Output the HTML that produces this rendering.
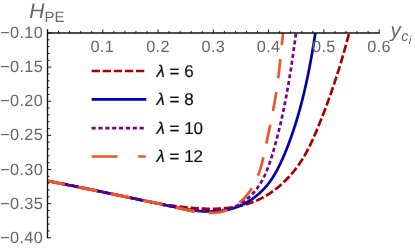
<!DOCTYPE html><html><head><meta charset="utf-8"><style>html,body{margin:0;padding:0;background:#fff;}body{width:415px;height:249px;position:relative;overflow:hidden;font-family:"Liberation Sans",sans-serif;}</style></head><body><svg width="415" height="249" viewBox="0 0 415 249" style="position:absolute;left:0;top:0;will-change:transform">
<defs><clipPath id="cp"><rect x="47" y="33.0" width="340" height="210"/></clipPath><clipPath id="cl"><rect x="47" y="150" width="153" height="90"/></clipPath></defs>
<g clip-path="url(#cp)" fill="none" stroke-width="2.7">
<path d="M47.33,181.01 L48.40,181.18 L49.47,181.36 L50.54,181.53 L51.61,181.71 L52.67,181.88 L53.73,182.06 L54.80,182.25 L55.86,182.43 L56.92,182.62 L57.97,182.80 L59.03,182.99 L60.09,183.18 L61.14,183.37 L62.19,183.57 L63.25,183.76 L64.30,183.96 L65.35,184.16 L66.40,184.36 L67.45,184.56 L68.49,184.76 L69.54,184.96 L70.58,185.17 L71.63,185.37 L72.67,185.58 L73.71,185.79 L74.75,186.00 L75.79,186.21 L76.83,186.42 L77.87,186.63 L78.91,186.85 L79.95,187.06 L80.98,187.28 L82.02,187.50 L83.05,187.71 L84.09,187.93 L85.12,188.15 L86.15,188.37 L87.18,188.59 L88.22,188.81 L89.25,189.03 L90.28,189.25 L91.31,189.48 L92.34,189.70 L93.36,189.92 L94.39,190.15 L95.42,190.37 L96.45,190.60 L97.47,190.82 L98.50,191.05 L99.53,191.28 L100.55,191.50 L101.58,191.73 L102.60,191.95 L103.63,192.18 L104.65,192.41 L105.67,192.63 L106.70,192.86 L107.72,193.09 L108.75,193.31 L109.77,193.54 L110.79,193.77 L111.82,193.99 L112.84,194.22 L113.86,194.44 L114.88,194.67 L115.91,194.89 L116.93,195.12 L117.95,195.34 L118.98,195.57 L120.00,195.79 L121.02,196.01 L122.04,196.23 L123.07,196.46 L124.09,196.68 L125.11,196.90 L126.14,197.12 L127.16,197.34 L128.19,197.55 L129.21,197.77 L130.23,197.99 L131.26,198.20 L132.29,198.42 L133.31,198.63 L134.34,198.84 L135.36,199.06 L136.39,199.27 L137.42,199.48 L138.44,199.68 L139.47,199.89 L140.50,200.10 L141.53,200.30 L142.56,200.51 L143.59,200.71 L144.62,200.91 L145.65,201.11 L146.68,201.31 L147.72,201.50 L148.75,201.70 L149.78,201.89 L150.82,202.08 L151.85,202.27 L152.89,202.46 L153.93,202.65 L154.96,202.83 L156.00,203.02 L157.04,203.20 L158.08,203.38 L159.12,203.56 L160.16,203.73 L161.21,203.91 L162.25,204.08 L163.30,204.25 L164.34,204.42 L165.39,204.58 L166.44,204.75 L167.48,204.91 L168.53,205.07 L169.58,205.23 L170.64,205.38 L171.69,205.54 L172.74,205.69 L173.80,205.83 L174.86,205.98 L175.92,206.12 L176.97,206.26 L178.03,206.40 L179.10,206.54 L180.16,206.67 L181.22,206.80 L182.29,206.93 L183.36,207.05 L184.42,207.17 L185.49,207.29 L186.56,207.40 L187.63,207.52 L188.70,207.62 L189.77,207.73 L190.84,207.83 L191.92,207.92 L192.99,208.01 L194.06,208.10 L195.14,208.18 L196.21,208.26 L197.28,208.34 L198.36,208.41 L199.43,208.47 L200.50,208.53 L201.57,208.58 L202.65,208.63 L203.72,208.67 L204.79,208.71 L205.86,208.74 L206.93,208.77 L208.00,208.79 L209.07,208.81 L210.14,208.81 L211.21,208.82 L212.27,208.81 L213.34,208.80 L214.40,208.78 L215.47,208.76 L216.53,208.73 L217.59,208.69 L218.65,208.64 L219.70,208.59 L220.76,208.53 L221.81,208.46 L222.87,208.39 L223.92,208.30 L224.96,208.21 L226.01,208.11 L227.06,208.01 L228.10,207.89 L229.14,207.77 L230.18,207.64 L231.21,207.49 L232.24,207.34 L233.27,207.19 L234.30,207.02 L235.33,206.84 L236.35,206.65 L237.37,206.46 L238.39,206.25 L239.40,206.04 L240.41,205.81 L241.42,205.58 L242.43,205.33 L243.43,205.08 L244.43,204.81 L245.42,204.54 L246.41,204.25 L247.40,203.95 L248.38,203.65 L249.36,203.33 L250.34,203.00 L251.31,202.66 L252.28,202.31 L253.25,201.94 L254.21,201.57 L255.16,201.18 L256.11,200.78 L257.06,200.37 L258.01,199.95 L258.94,199.51 L259.88,199.07 L260.81,198.61 L261.73,198.14 L262.65,197.65 L263.57,197.16 L264.48,196.65 L265.39,196.13 L266.29,195.60 L267.18,195.05 L268.07,194.50 L268.96,193.94 L269.84,193.36 L270.71,192.77 L271.58,192.18 L272.44,191.57 L273.30,190.95 L274.15,190.33 L275.00,189.69 L275.84,189.04 L276.67,188.38 L277.50,187.72 L278.32,187.04 L279.13,186.36 L279.94,185.66 L280.75,184.96 L281.54,184.25 L282.33,183.53 L283.12,182.80 L283.89,182.07 L284.66,181.32 L285.43,180.57 L286.18,179.81 L286.93,179.04 L287.67,178.27 L288.41,177.49 L289.14,176.70 L289.86,175.90 L290.57,175.10 L291.28,174.29 L291.98,173.47 L292.67,172.65 L293.35,171.82 L294.03,170.99 L294.70,170.15 L295.36,169.31 L296.01,168.45 L296.66,167.60 L297.29,166.74 L297.92,165.87 L298.54,165.00 L299.15,164.12 L299.76,163.24 L300.35,162.36 L300.94,161.47 L301.52,160.57 L302.09,159.68 L302.65,158.78 L303.20,157.87 L303.75,156.96 L304.29,156.05 L304.82,155.14 L305.34,154.22 L305.86,153.29 L306.37,152.37 L306.87,151.44 L307.37,150.51 L307.86,149.57 L308.35,148.63 L308.83,147.69 L309.30,146.75 L309.77,145.81 L310.24,144.86 L310.70,143.91 L311.15,142.95 L311.60,142.00 L312.04,141.04 L312.48,140.08 L312.92,139.12 L313.35,138.16 L313.78,137.20 L314.21,136.23 L314.63,135.26 L315.05,134.29 L315.47,133.32 L315.88,132.35 L316.29,131.38 L316.70,130.41 L317.11,129.43 L317.51,128.46 L317.91,127.48 L318.31,126.50 L318.71,125.53 L319.11,124.55 L319.51,123.57 L319.90,122.59 L320.30,121.61 L320.69,120.63 L321.08,119.65 L321.47,118.67 L321.86,117.69 L322.24,116.70 L322.63,115.72 L323.01,114.74 L323.39,113.75 L323.77,112.77 L324.15,111.78 L324.52,110.79 L324.90,109.81 L325.27,108.82 L325.64,107.83 L326.01,106.84 L326.38,105.85 L326.75,104.86 L327.12,103.87 L327.48,102.88 L327.84,101.89 L328.20,100.89 L328.56,99.90 L328.92,98.91 L329.28,97.91 L329.63,96.92 L329.99,95.92 L330.34,94.93 L330.69,93.93 L331.04,92.93 L331.39,91.94 L331.73,90.94 L332.08,89.94 L332.42,88.94 L332.76,87.94 L333.10,86.94 L333.44,85.94 L333.78,84.94 L334.12,83.94 L334.45,82.94 L334.78,81.93 L335.11,80.93 L335.44,79.93 L335.77,78.92 L336.10,77.92 L336.43,76.91 L336.75,75.91 L337.07,74.90 L337.39,73.89 L337.71,72.89 L338.03,71.88 L338.35,70.87 L338.66,69.86 L338.98,68.85 L339.29,67.84 L339.60,66.83 L339.91,65.82 L340.22,64.81 L340.53,63.80 L340.83,62.79 L341.13,61.77 L341.44,60.76 L341.74,59.75 L342.04,58.73 L342.34,57.72 L342.63,56.71 L342.93,55.69 L343.22,54.68 L343.51,53.66 L343.81,52.64 L344.10,51.63 L344.38,50.61 L344.67,49.59 L344.96,48.57 L345.24,47.56 L345.52,46.54 L345.81,45.52 L346.09,44.50 L346.36,43.48 L346.64,42.46 L346.92,41.44 L347.19,40.41 L347.46,39.39 L347.74,38.37 L348.01,37.35 L348.28,36.33 L348.54,35.30 L348.81,34.28 L349.07,33.26 L349.34,32.23 L349.60,31.21 L349.86,30.18 L350.12,29.16 L350.38,28.13 L350.63,27.11 L350.89,26.08 L351.14,25.05 L351.40,24.03 L351.65,23.00 L351.90,21.97" stroke="#a80000" stroke-dasharray="8.3 2.8" stroke-dashoffset="-1.5"/>
<path d="M47.34,180.84 L48.36,181.04 L49.39,181.25 L50.41,181.45 L51.43,181.65 L52.45,181.86 L53.47,182.06 L54.48,182.26 L55.50,182.46 L56.51,182.67 L57.52,182.87 L58.53,183.07 L59.54,183.27 L60.55,183.47 L61.56,183.68 L62.56,183.88 L63.57,184.08 L64.57,184.28 L65.57,184.48 L66.57,184.68 L67.57,184.88 L68.57,185.08 L69.57,185.28 L70.57,185.48 L71.56,185.68 L72.56,185.88 L73.55,186.08 L74.54,186.28 L75.53,186.48 L76.53,186.68 L77.52,186.88 L78.50,187.08 L79.49,187.28 L80.48,187.48 L81.47,187.68 L82.45,187.87 L83.44,188.07 L84.42,188.27 L85.41,188.47 L86.39,188.67 L87.37,188.87 L88.35,189.07 L89.33,189.27 L90.32,189.47 L91.30,189.67 L92.28,189.87 L93.25,190.06 L94.23,190.26 L95.21,190.46 L96.19,190.66 L97.17,190.86 L98.14,191.06 L99.12,191.26 L100.10,191.46 L101.07,191.66 L102.05,191.86 L103.02,192.06 L104.00,192.26 L104.97,192.46 L105.95,192.66 L106.92,192.86 L107.90,193.06 L108.87,193.26 L109.85,193.46 L110.82,193.66 L111.80,193.86 L112.77,194.06 L113.74,194.26 L114.72,194.46 L115.69,194.66 L116.67,194.86 L117.64,195.07 L118.62,195.27 L119.59,195.47 L120.57,195.67 L121.54,195.88 L122.52,196.08 L123.49,196.28 L124.47,196.48 L125.45,196.69 L126.42,196.89 L127.40,197.09 L128.38,197.30 L129.35,197.50 L130.33,197.71 L131.31,197.91 L132.29,198.12 L133.27,198.32 L134.25,198.53 L135.23,198.73 L136.21,198.94 L137.19,199.15 L138.17,199.35 L139.16,199.56 L140.14,199.77 L141.12,199.98 L142.11,200.18 L143.10,200.39 L144.08,200.60 L145.07,200.81 L146.06,201.02 L147.05,201.23 L148.04,201.44 L149.03,201.65 L150.02,201.86 L151.01,202.07 L152.00,202.28 L153.00,202.50 L153.99,202.71 L154.99,202.92 L155.99,203.13 L156.98,203.35 L157.98,203.56 L158.98,203.78 L159.99,203.99 L160.99,204.21 L161.99,204.42 L163.00,204.64 L164.00,204.86 L165.01,205.07 L166.02,205.29 L167.03,205.51 L168.04,205.72 L169.05,205.94 L170.06,206.15 L171.08,206.36 L172.09,206.57 L173.10,206.78 L174.12,206.99 L175.13,207.20 L176.15,207.40 L177.17,207.60 L178.18,207.80 L179.20,208.00 L180.22,208.19 L181.23,208.38 L182.25,208.56 L183.27,208.74 L184.28,208.92 L185.30,209.10 L186.32,209.27 L187.33,209.43 L188.35,209.59 L189.37,209.74 L190.38,209.89 L191.40,210.04 L192.41,210.18 L193.43,210.31 L194.44,210.44 L195.45,210.56 L196.47,210.67 L197.48,210.78 L198.49,210.88 L199.50,210.97 L200.51,211.06 L201.52,211.13 L202.52,211.20 L203.53,211.27 L204.53,211.32 L205.53,211.37 L206.54,211.40 L207.54,211.43 L208.54,211.45 L209.53,211.46 L210.53,211.46 L211.52,211.45 L212.52,211.43 L213.51,211.41 L214.50,211.37 L215.48,211.32 L216.47,211.26 L217.45,211.18 L218.43,211.10 L219.41,211.01 L220.39,210.90 L221.37,210.78 L222.34,210.66 L223.31,210.51 L224.28,210.36 L225.24,210.19 L226.21,210.01 L227.17,209.82 L228.13,209.62 L229.08,209.40 L230.03,209.16 L230.98,208.92 L231.93,208.66 L232.87,208.38 L233.82,208.09 L234.75,207.79 L235.69,207.47 L236.62,207.13 L237.55,206.78 L238.47,206.42 L239.40,206.04 L240.31,205.65 L241.23,205.24 L242.13,204.82 L243.04,204.38 L243.94,203.93 L244.83,203.47 L245.72,202.99 L246.60,202.50 L247.48,201.99 L248.35,201.48 L249.21,200.95 L250.07,200.41 L250.92,199.85 L251.76,199.29 L252.60,198.71 L253.43,198.12 L254.25,197.51 L255.06,196.90 L255.87,196.27 L256.66,195.64 L257.45,194.99 L258.23,194.33 L259.00,193.66 L259.76,192.98 L260.51,192.29 L261.26,191.59 L261.99,190.88 L262.71,190.16 L263.42,189.42 L264.12,188.68 L264.81,187.93 L265.49,187.17 L266.16,186.41 L266.81,185.63 L267.46,184.84 L268.09,184.05 L268.71,183.25 L269.32,182.44 L269.92,181.62 L270.51,180.79 L271.09,179.96 L271.66,179.12 L272.22,178.28 L272.77,177.42 L273.31,176.57 L273.85,175.70 L274.37,174.83 L274.89,173.96 L275.40,173.08 L275.90,172.20 L276.39,171.31 L276.88,170.42 L277.36,169.53 L277.83,168.63 L278.29,167.73 L278.75,166.82 L279.21,165.92 L279.66,165.01 L280.10,164.10 L280.53,163.18 L280.97,162.27 L281.39,161.35 L281.81,160.43 L282.23,159.50 L282.64,158.58 L283.05,157.65 L283.45,156.72 L283.85,155.79 L284.25,154.86 L284.64,153.93 L285.02,153.00 L285.41,152.06 L285.79,151.12 L286.17,150.19 L286.54,149.25 L286.91,148.31 L287.28,147.37 L287.65,146.43 L288.01,145.48 L288.37,144.54 L288.73,143.60 L289.08,142.65 L289.43,141.70 L289.78,140.76 L290.13,139.81 L290.47,138.86 L290.81,137.91 L291.15,136.96 L291.49,136.01 L291.82,135.06 L292.15,134.11 L292.48,133.15 L292.80,132.20 L293.13,131.25 L293.45,130.29 L293.76,129.33 L294.08,128.38 L294.39,127.42 L294.70,126.46 L295.01,125.50 L295.31,124.54 L295.61,123.58 L295.91,122.62 L296.21,121.66 L296.51,120.69 L296.80,119.73 L297.09,118.76 L297.38,117.80 L297.66,116.83 L297.95,115.87 L298.23,114.90 L298.51,113.93 L298.79,112.96 L299.06,111.99 L299.33,111.02 L299.60,110.05 L299.87,109.08 L300.14,108.11 L300.40,107.14 L300.66,106.16 L300.92,105.19 L301.18,104.22 L301.43,103.24 L301.69,102.27 L301.94,101.29 L302.19,100.32 L302.43,99.34 L302.68,98.36 L302.92,97.38 L303.16,96.40 L303.40,95.42 L303.64,94.45 L303.87,93.47 L304.11,92.48 L304.34,91.50 L304.57,90.52 L304.80,89.54 L305.02,88.56 L305.25,87.57 L305.47,86.59 L305.69,85.61 L305.91,84.62 L306.13,83.64 L306.34,82.65 L306.56,81.67 L306.77,80.68 L306.98,79.69 L307.19,78.71 L307.40,77.72 L307.60,76.73 L307.81,75.74 L308.01,74.75 L308.21,73.76 L308.41,72.77 L308.61,71.79 L308.81,70.80 L309.00,69.80 L309.20,68.81 L309.39,67.82 L309.58,66.83 L309.77,65.84 L309.96,64.85 L310.14,63.86 L310.33,62.86 L310.51,61.87 L310.70,60.88 L310.88,59.88 L311.06,58.89 L311.24,57.89 L311.41,56.90 L311.59,55.91 L311.76,54.91 L311.94,53.92 L312.11,52.92 L312.28,51.93 L312.45,50.93 L312.62,49.93 L312.79,48.94 L312.96,47.94 L313.12,46.95 L313.29,45.95 L313.45,44.95 L313.62,43.95 L313.78,42.96 L313.94,41.96 L314.10,40.96 L314.26,39.97 L314.42,38.97 L314.57,37.97 L314.73,36.97 L314.89,35.97 L315.04,34.98 L315.19,33.98 L315.35,32.98 L315.50,31.98 L315.65,30.98 L315.80,29.98 L315.95,28.98 L316.10,27.99 L316.25,26.99 L316.39,25.99 L316.54,24.99 L316.69,23.99 L316.83,22.99 L316.98,21.99" stroke="#0000aa"/>
<path d="M47.46,180.84 L48.43,181.04 L49.40,181.24 L50.38,181.44 L51.35,181.64 L52.32,181.84 L53.30,182.03 L54.27,182.23 L55.24,182.43 L56.21,182.63 L57.18,182.83 L58.15,183.02 L59.12,183.22 L60.09,183.42 L61.06,183.61 L62.03,183.81 L63.00,184.01 L63.97,184.20 L64.93,184.40 L65.90,184.59 L66.87,184.79 L67.84,184.98 L68.80,185.18 L69.77,185.37 L70.74,185.57 L71.70,185.76 L72.67,185.96 L73.63,186.15 L74.60,186.35 L75.56,186.54 L76.53,186.73 L77.49,186.93 L78.46,187.12 L79.42,187.31 L80.39,187.51 L81.35,187.70 L82.31,187.89 L83.28,188.09 L84.24,188.28 L85.20,188.47 L86.16,188.67 L87.13,188.86 L88.09,189.05 L89.05,189.25 L90.01,189.44 L90.98,189.63 L91.94,189.82 L92.90,190.02 L93.86,190.21 L94.82,190.40 L95.78,190.60 L96.74,190.79 L97.70,190.98 L98.66,191.18 L99.62,191.37 L100.59,191.56 L101.55,191.76 L102.51,191.95 L103.47,192.14 L104.43,192.34 L105.39,192.53 L106.35,192.72 L107.31,192.92 L108.27,193.11 L109.23,193.31 L110.18,193.50 L111.14,193.70 L112.10,193.89 L113.06,194.09 L114.02,194.28 L114.98,194.48 L115.94,194.67 L116.90,194.87 L117.86,195.06 L118.82,195.26 L119.78,195.46 L120.74,195.65 L121.70,195.85 L122.66,196.05 L123.62,196.24 L124.58,196.44 L125.53,196.64 L126.49,196.84 L127.45,197.04 L128.41,197.23 L129.37,197.43 L130.33,197.63 L131.29,197.83 L132.25,198.03 L133.21,198.23 L134.17,198.43 L135.13,198.63 L136.09,198.84 L137.05,199.04 L138.01,199.24 L138.97,199.44 L139.93,199.65 L140.89,199.85 L141.85,200.05 L142.81,200.26 L143.77,200.46 L144.74,200.67 L145.70,200.87 L146.66,201.08 L147.62,201.28 L148.58,201.49 L149.54,201.70 L150.50,201.91 L151.47,202.11 L152.43,202.32 L153.39,202.53 L154.35,202.74 L155.32,202.95 L156.28,203.16 L157.24,203.37 L158.21,203.58 L159.17,203.80 L160.13,204.01 L161.10,204.22 L162.06,204.44 L163.03,204.65 L163.99,204.87 L164.96,205.08 L165.92,205.30 L166.89,205.51 L167.85,205.73 L168.82,205.94 L169.78,206.15 L170.75,206.36 L171.72,206.57 L172.69,206.78 L173.66,206.99 L174.62,207.19 L175.59,207.40 L176.56,207.60 L177.53,207.80 L178.51,207.99 L179.48,208.18 L180.45,208.37 L181.42,208.55 L182.40,208.74 L183.37,208.91 L184.34,209.09 L185.32,209.25 L186.30,209.42 L187.27,209.58 L188.25,209.73 L189.23,209.88 L190.21,210.02 L191.19,210.16 L192.17,210.29 L193.16,210.42 L194.14,210.54 L195.12,210.65 L196.11,210.76 L197.09,210.86 L198.08,210.95 L199.07,211.03 L200.06,211.11 L201.05,211.18 L202.04,211.24 L203.03,211.29 L204.03,211.34 L205.02,211.37 L206.02,211.40 L207.02,211.42 L208.01,211.42 L209.01,211.42 L210.01,211.41 L211.00,211.39 L212.00,211.35 L212.99,211.31 L213.99,211.25 L214.98,211.19 L215.97,211.11 L216.95,211.01 L217.94,210.91 L218.92,210.79 L219.89,210.66 L220.87,210.52 L221.84,210.36 L222.80,210.19 L223.77,210.01 L224.72,209.81 L225.67,209.59 L226.62,209.36 L227.56,209.12 L228.49,208.86 L229.42,208.58 L230.34,208.29 L231.25,207.98 L232.16,207.65 L233.06,207.31 L233.95,206.95 L234.83,206.57 L235.71,206.18 L236.57,205.77 L237.43,205.34 L238.28,204.89 L239.12,204.43 L239.95,203.96 L240.77,203.46 L241.58,202.96 L242.39,202.44 L243.18,201.90 L243.97,201.35 L244.75,200.78 L245.51,200.20 L246.27,199.61 L247.02,199.00 L247.75,198.38 L248.48,197.75 L249.20,197.11 L249.91,196.45 L250.60,195.78 L251.29,195.10 L251.97,194.41 L252.63,193.70 L253.29,192.99 L253.93,192.26 L254.56,191.52 L255.18,190.78 L255.79,190.02 L256.39,189.25 L256.98,188.48 L257.56,187.69 L258.12,186.90 L258.67,186.09 L259.22,185.28 L259.75,184.46 L260.26,183.63 L260.77,182.80 L261.27,181.95 L261.76,181.10 L262.24,180.25 L262.70,179.38 L263.16,178.51 L263.61,177.63 L264.05,176.75 L264.48,175.86 L264.90,174.96 L265.31,174.06 L265.72,173.15 L266.12,172.24 L266.50,171.32 L266.89,170.40 L267.26,169.48 L267.63,168.55 L267.99,167.61 L268.34,166.67 L268.69,165.73 L269.03,164.79 L269.37,163.84 L269.70,162.89 L270.02,161.94 L270.34,160.98 L270.66,160.02 L270.97,159.07 L271.27,158.10 L271.58,157.14 L271.87,156.18 L272.17,155.21 L272.46,154.25 L272.74,153.28 L273.03,152.32 L273.31,151.35 L273.59,150.38 L273.86,149.42 L274.14,148.45 L274.41,147.49 L274.68,146.52 L274.95,145.56 L275.21,144.60 L275.48,143.63 L275.74,142.67 L276.00,141.71 L276.25,140.75 L276.51,139.79 L276.76,138.82 L277.01,137.86 L277.26,136.90 L277.51,135.94 L277.75,134.98 L278.00,134.03 L278.24,133.07 L278.48,132.11 L278.72,131.15 L278.95,130.19 L279.19,129.23 L279.42,128.28 L279.65,127.32 L279.88,126.36 L280.10,125.41 L280.33,124.45 L280.55,123.49 L280.77,122.54 L280.99,121.58 L281.21,120.63 L281.43,119.67 L281.64,118.72 L281.85,117.76 L282.06,116.80 L282.27,115.85 L282.48,114.89 L282.69,113.94 L282.89,112.98 L283.10,112.03 L283.30,111.08 L283.50,110.12 L283.70,109.17 L283.89,108.21 L284.09,107.26 L284.28,106.30 L284.48,105.35 L284.67,104.39 L284.86,103.44 L285.05,102.48 L285.23,101.53 L285.42,100.57 L285.60,99.62 L285.79,98.66 L285.97,97.71 L286.15,96.75 L286.33,95.80 L286.51,94.84 L286.69,93.89 L286.86,92.93 L287.04,91.97 L287.21,91.02 L287.38,90.06 L287.55,89.10 L287.72,88.15 L287.89,87.19 L288.06,86.23 L288.22,85.27 L288.39,84.32 L288.55,83.36 L288.72,82.40 L288.88,81.44 L289.04,80.48 L289.20,79.52 L289.36,78.56 L289.52,77.60 L289.68,76.64 L289.83,75.68 L289.99,74.72 L290.14,73.76 L290.30,72.79 L290.45,71.83 L290.60,70.87 L290.75,69.90 L290.90,68.94 L291.05,67.98 L291.20,67.01 L291.35,66.05 L291.50,65.08 L291.64,64.11 L291.79,63.15 L291.94,62.18 L292.08,61.21 L292.22,60.24 L292.37,59.27 L292.51,58.30 L292.65,57.33 L292.79,56.36 L292.93,55.39 L293.08,54.42 L293.21,53.44 L293.35,52.47 L293.49,51.50 L293.63,50.52 L293.77,49.55 L293.91,48.57 L294.04,47.59 L294.18,46.61 L294.32,45.64 L294.45,44.66 L294.59,43.68 L294.72,42.69 L294.86,41.71 L294.99,40.73 L295.12,39.75 L295.26,38.76 L295.39,37.78 L295.52,36.79 L295.66,35.81 L295.79,34.82 L295.92,33.83 L296.05,32.84 L296.19,31.85 L296.32,30.86 L296.45,29.87 L296.58,28.87 L296.71,27.88 L296.84,26.89 L296.98,25.89 L297.11,24.89 L297.24,23.90 L297.37,22.90 L297.50,21.90" stroke="#7a0085" stroke-dasharray="4.1 2.75" stroke-dashoffset="0"/>
<path d="M47.44,180.80 L48.41,181.00 L49.37,181.20 L50.33,181.40 L51.29,181.61 L52.25,181.81 L53.21,182.01 L54.17,182.21 L55.13,182.41 L56.09,182.61 L57.05,182.80 L58.01,183.00 L58.97,183.20 L59.92,183.40 L60.88,183.60 L61.84,183.79 L62.79,183.99 L63.75,184.18 L64.71,184.38 L65.66,184.58 L66.62,184.77 L67.57,184.97 L68.52,185.16 L69.48,185.36 L70.43,185.55 L71.38,185.74 L72.34,185.94 L73.29,186.13 L74.24,186.32 L75.19,186.52 L76.14,186.71 L77.09,186.90 L78.05,187.09 L79.00,187.29 L79.95,187.48 L80.90,187.67 L81.85,187.86 L82.80,188.05 L83.75,188.24 L84.69,188.43 L85.64,188.62 L86.59,188.82 L87.54,189.01 L88.49,189.20 L89.44,189.39 L90.38,189.58 L91.33,189.77 L92.28,189.96 L93.23,190.15 L94.17,190.34 L95.12,190.53 L96.07,190.72 L97.01,190.91 L97.96,191.10 L98.91,191.29 L99.85,191.48 L100.80,191.67 L101.74,191.86 L102.69,192.05 L103.64,192.24 L104.58,192.43 L105.53,192.62 L106.47,192.81 L107.42,193.00 L108.36,193.19 L109.31,193.38 L110.25,193.57 L111.20,193.76 L112.14,193.95 L113.09,194.14 L114.03,194.33 L114.98,194.52 L115.92,194.71 L116.87,194.90 L117.81,195.10 L118.76,195.29 L119.70,195.48 L120.65,195.67 L121.59,195.86 L122.54,196.05 L123.48,196.25 L124.43,196.44 L125.37,196.63 L126.32,196.83 L127.26,197.02 L128.21,197.21 L129.16,197.41 L130.10,197.60 L131.05,197.80 L131.99,197.99 L132.94,198.19 L133.88,198.38 L134.83,198.58 L135.78,198.77 L136.72,198.97 L137.67,199.17 L138.62,199.36 L139.56,199.56 L140.51,199.76 L141.46,199.96 L142.41,200.16 L143.35,200.35 L144.30,200.55 L145.25,200.75 L146.20,200.95 L147.14,201.15 L148.09,201.35 L149.04,201.56 L149.99,201.76 L150.94,201.96 L151.89,202.16 L152.84,202.37 L153.79,202.57 L154.74,202.77 L155.69,202.98 L156.64,203.18 L157.59,203.39 L158.54,203.60 L159.50,203.80 L160.45,204.01 L161.40,204.22 L162.35,204.43 L163.31,204.64 L164.26,204.85 L165.21,205.06 L166.17,205.27 L167.12,205.48 L168.08,205.69 L169.03,205.90 L169.99,206.12 L170.94,206.33 L171.90,206.55 L172.85,206.76 L173.81,206.98 L174.77,207.19 L175.73,207.41 L176.69,207.63 L177.64,207.85 L178.60,208.07 L179.56,208.28 L180.52,208.50 L181.48,208.72 L182.44,208.93 L183.40,209.15 L184.37,209.36 L185.33,209.57 L186.29,209.77 L187.25,209.97 L188.21,210.17 L189.18,210.37 L190.14,210.56 L191.11,210.74 L192.07,210.92 L193.03,211.10 L194.00,211.27 L194.96,211.43 L195.93,211.59 L196.89,211.73 L197.86,211.88 L198.82,212.01 L199.79,212.14 L200.76,212.25 L201.72,212.36 L202.69,212.46 L203.66,212.55 L204.62,212.63 L205.59,212.70 L206.56,212.76 L207.53,212.80 L208.49,212.84 L209.46,212.86 L210.43,212.87 L211.40,212.87 L212.37,212.85 L213.33,212.82 L214.29,212.77 L215.25,212.71 L216.21,212.62 L217.16,212.52 L218.11,212.39 L219.05,212.24 L219.98,212.07 L220.91,211.88 L221.83,211.66 L222.75,211.42 L223.66,211.16 L224.56,210.88 L225.45,210.58 L226.34,210.25 L227.22,209.91 L228.09,209.55 L228.96,209.16 L229.81,208.76 L230.66,208.34 L231.50,207.90 L232.33,207.45 L233.16,206.97 L233.97,206.48 L234.77,205.97 L235.57,205.45 L236.36,204.90 L237.13,204.35 L237.90,203.78 L238.66,203.19 L239.40,202.59 L240.14,201.97 L240.87,201.34 L241.58,200.70 L242.29,200.04 L242.98,199.37 L243.67,198.69 L244.34,197.99 L245.00,197.29 L245.65,196.57 L246.28,195.84 L246.91,195.10 L247.52,194.35 L248.12,193.59 L248.71,192.82 L249.29,192.04 L249.85,191.26 L250.40,190.46 L250.94,189.66 L251.47,188.85 L251.98,188.03 L252.48,187.20 L252.96,186.37 L253.43,185.53 L253.90,184.69 L254.34,183.83 L254.78,182.97 L255.21,182.11 L255.62,181.24 L256.03,180.36 L256.42,179.48 L256.81,178.59 L257.18,177.70 L257.54,176.80 L257.90,175.90 L258.25,174.99 L258.58,174.08 L258.91,173.16 L259.23,172.24 L259.54,171.31 L259.85,170.39 L260.14,169.45 L260.43,168.52 L260.72,167.58 L260.99,166.64 L261.26,165.69 L261.53,164.74 L261.78,163.79 L262.04,162.84 L262.28,161.89 L262.52,160.93 L262.76,159.97 L262.99,159.01 L263.22,158.05 L263.45,157.08 L263.67,156.12 L263.89,155.15 L264.10,154.19 L264.31,153.22 L264.52,152.25 L264.73,151.29 L264.93,150.32 L265.13,149.35 L265.34,148.38 L265.54,147.42 L265.73,146.45 L265.93,145.48 L266.13,144.52 L266.33,143.56 L266.53,142.60 L266.73,141.64 L266.92,140.68 L267.12,139.72 L267.32,138.76 L267.52,137.81 L267.72,136.85 L267.92,135.90 L268.11,134.95 L268.31,134.00 L268.51,133.05 L268.71,132.10 L268.90,131.15 L269.10,130.20 L269.30,129.25 L269.49,128.31 L269.69,127.36 L269.88,126.42 L270.08,125.47 L270.27,124.53 L270.47,123.58 L270.66,122.64 L270.85,121.70 L271.04,120.76 L271.23,119.81 L271.42,118.87 L271.61,117.93 L271.80,116.99 L271.98,116.05 L272.17,115.11 L272.35,114.17 L272.54,113.23 L272.72,112.29 L272.90,111.34 L273.08,110.40 L273.26,109.46 L273.43,108.52 L273.61,107.58 L273.78,106.63 L273.96,105.69 L274.13,104.75 L274.30,103.81 L274.47,102.86 L274.63,101.92 L274.80,100.97 L274.96,100.02 L275.13,99.08 L275.29,98.13 L275.44,97.18 L275.60,96.23 L275.75,95.28 L275.91,94.33 L276.06,93.38 L276.21,92.43 L276.35,91.47 L276.50,90.52 L276.64,89.56 L276.78,88.61 L276.92,87.65 L277.06,86.69 L277.19,85.73 L277.33,84.77 L277.46,83.81 L277.59,82.85 L277.72,81.89 L277.84,80.92 L277.97,79.96 L278.09,78.99 L278.22,78.03 L278.34,77.06 L278.46,76.10 L278.58,75.13 L278.69,74.16 L278.81,73.20 L278.92,72.23 L279.04,71.26 L279.15,70.29 L279.26,69.32 L279.37,68.35 L279.48,67.38 L279.59,66.41 L279.69,65.44 L279.80,64.47 L279.91,63.50 L280.01,62.53 L280.11,61.56 L280.22,60.59 L280.32,59.62 L280.42,58.65 L280.52,57.67 L280.62,56.70 L280.72,55.73 L280.82,54.76 L280.92,53.79 L281.02,52.82 L281.12,51.85 L281.22,50.88 L281.32,49.91 L281.41,48.94 L281.51,47.98 L281.61,47.01 L281.71,46.04 L281.80,45.07 L281.90,44.10 L282.00,43.14 L282.10,42.17 L282.19,41.21 L282.29,40.24 L282.39,39.28 L282.49,38.31 L282.58,37.35 L282.68,36.39 L282.78,35.43 L282.88,34.47 L282.98,33.51 L283.08,32.55 L283.18,31.59 L283.28,30.63 L283.38,29.67 L283.49,28.72 L283.59,27.76 L283.69,26.81 L283.80,25.86 L283.90,24.91 L284.01,23.96 L284.12,23.01 L284.22,22.06" stroke="#e9572b" stroke-dasharray="19.2 14" stroke-dashoffset="1.6"/>
<path d="M47.44,180.80 L48.41,181.00 L49.37,181.20 L50.33,181.40 L51.29,181.61 L52.25,181.81 L53.21,182.01 L54.17,182.21 L55.13,182.41 L56.09,182.61 L57.05,182.80 L58.01,183.00 L58.97,183.20 L59.92,183.40 L60.88,183.60 L61.84,183.79 L62.79,183.99 L63.75,184.18 L64.71,184.38 L65.66,184.58 L66.62,184.77 L67.57,184.97 L68.52,185.16 L69.48,185.36 L70.43,185.55 L71.38,185.74 L72.34,185.94 L73.29,186.13 L74.24,186.32 L75.19,186.52 L76.14,186.71 L77.09,186.90 L78.05,187.09 L79.00,187.29 L79.95,187.48 L80.90,187.67 L81.85,187.86 L82.80,188.05 L83.75,188.24 L84.69,188.43 L85.64,188.62 L86.59,188.82 L87.54,189.01 L88.49,189.20 L89.44,189.39 L90.38,189.58 L91.33,189.77 L92.28,189.96 L93.23,190.15 L94.17,190.34 L95.12,190.53 L96.07,190.72 L97.01,190.91 L97.96,191.10 L98.91,191.29 L99.85,191.48 L100.80,191.67 L101.74,191.86 L102.69,192.05 L103.64,192.24 L104.58,192.43 L105.53,192.62 L106.47,192.81 L107.42,193.00 L108.36,193.19 L109.31,193.38 L110.25,193.57 L111.20,193.76 L112.14,193.95 L113.09,194.14 L114.03,194.33 L114.98,194.52 L115.92,194.71 L116.87,194.90 L117.81,195.10 L118.76,195.29 L119.70,195.48 L120.65,195.67 L121.59,195.86 L122.54,196.05 L123.48,196.25 L124.43,196.44 L125.37,196.63 L126.32,196.83 L127.26,197.02 L128.21,197.21 L129.16,197.41 L130.10,197.60 L131.05,197.80 L131.99,197.99 L132.94,198.19 L133.88,198.38 L134.83,198.58 L135.78,198.77 L136.72,198.97 L137.67,199.17 L138.62,199.36 L139.56,199.56 L140.51,199.76 L141.46,199.96 L142.41,200.16 L143.35,200.35 L144.30,200.55 L145.25,200.75 L146.20,200.95 L147.14,201.15 L148.09,201.35 L149.04,201.56 L149.99,201.76 L150.94,201.96 L151.89,202.16 L152.84,202.37 L153.79,202.57 L154.74,202.77 L155.69,202.98 L156.64,203.18 L157.59,203.39 L158.54,203.60 L159.50,203.80 L160.45,204.01 L161.40,204.22 L162.35,204.43 L163.31,204.64 L164.26,204.85 L165.21,205.06 L166.17,205.27 L167.12,205.48 L168.08,205.69 L169.03,205.90 L169.99,206.12 L170.94,206.33 L171.90,206.55 L172.85,206.76 L173.81,206.98 L174.77,207.19 L175.73,207.41 L176.69,207.63 L177.64,207.85 L178.60,208.07 L179.56,208.28 L180.52,208.50 L181.48,208.72 L182.44,208.93 L183.40,209.15 L184.37,209.36 L185.33,209.57 L186.29,209.77 L187.25,209.97 L188.21,210.17 L189.18,210.37 L190.14,210.56 L191.11,210.74 L192.07,210.92 L193.03,211.10 L194.00,211.27 L194.96,211.43 L195.93,211.59 L196.89,211.73 L197.86,211.88 L198.82,212.01 L199.79,212.14 L200.76,212.25 L201.72,212.36 L202.69,212.46 L203.66,212.55 L204.62,212.63 L205.59,212.70 L206.56,212.76 L207.53,212.80 L208.49,212.84 L209.46,212.86 L210.43,212.87 L211.40,212.87 L212.37,212.85 L213.33,212.82 L214.29,212.77 L215.25,212.71 L216.21,212.62 L217.16,212.52 L218.11,212.39 L219.05,212.24 L219.98,212.07 L220.91,211.88 L221.83,211.66 L222.75,211.42 L223.66,211.16 L224.56,210.88 L225.45,210.58 L226.34,210.25 L227.22,209.91 L228.09,209.55 L228.96,209.16 L229.81,208.76 L230.66,208.34 L231.50,207.90 L232.33,207.45 L233.16,206.97 L233.97,206.48 L234.77,205.97 L235.57,205.45 L236.36,204.90 L237.13,204.35 L237.90,203.78 L238.66,203.19 L239.40,202.59 L240.14,201.97 L240.87,201.34 L241.58,200.70 L242.29,200.04 L242.98,199.37 L243.67,198.69 L244.34,197.99 L245.00,197.29 L245.65,196.57 L246.28,195.84 L246.91,195.10 L247.52,194.35 L248.12,193.59 L248.71,192.82 L249.29,192.04 L249.85,191.26 L250.40,190.46 L250.94,189.66 L251.47,188.85 L251.98,188.03 L252.48,187.20 L252.96,186.37 L253.43,185.53 L253.90,184.69 L254.34,183.83 L254.78,182.97 L255.21,182.11 L255.62,181.24 L256.03,180.36 L256.42,179.48 L256.81,178.59 L257.18,177.70 L257.54,176.80 L257.90,175.90 L258.25,174.99 L258.58,174.08 L258.91,173.16 L259.23,172.24 L259.54,171.31 L259.85,170.39 L260.14,169.45 L260.43,168.52 L260.72,167.58 L260.99,166.64 L261.26,165.69 L261.53,164.74 L261.78,163.79 L262.04,162.84 L262.28,161.89 L262.52,160.93 L262.76,159.97 L262.99,159.01 L263.22,158.05 L263.45,157.08 L263.67,156.12 L263.89,155.15 L264.10,154.19 L264.31,153.22 L264.52,152.25 L264.73,151.29 L264.93,150.32 L265.13,149.35 L265.34,148.38 L265.54,147.42 L265.73,146.45 L265.93,145.48 L266.13,144.52 L266.33,143.56 L266.53,142.60 L266.73,141.64 L266.92,140.68 L267.12,139.72 L267.32,138.76 L267.52,137.81 L267.72,136.85 L267.92,135.90 L268.11,134.95 L268.31,134.00 L268.51,133.05 L268.71,132.10 L268.90,131.15 L269.10,130.20 L269.30,129.25 L269.49,128.31 L269.69,127.36 L269.88,126.42 L270.08,125.47 L270.27,124.53 L270.47,123.58 L270.66,122.64 L270.85,121.70 L271.04,120.76 L271.23,119.81 L271.42,118.87 L271.61,117.93 L271.80,116.99 L271.98,116.05 L272.17,115.11 L272.35,114.17 L272.54,113.23 L272.72,112.29 L272.90,111.34 L273.08,110.40 L273.26,109.46 L273.43,108.52 L273.61,107.58 L273.78,106.63 L273.96,105.69 L274.13,104.75 L274.30,103.81 L274.47,102.86 L274.63,101.92 L274.80,100.97 L274.96,100.02 L275.13,99.08 L275.29,98.13 L275.44,97.18 L275.60,96.23 L275.75,95.28 L275.91,94.33 L276.06,93.38 L276.21,92.43 L276.35,91.47 L276.50,90.52 L276.64,89.56 L276.78,88.61 L276.92,87.65 L277.06,86.69 L277.19,85.73 L277.33,84.77 L277.46,83.81 L277.59,82.85 L277.72,81.89 L277.84,80.92 L277.97,79.96 L278.09,78.99 L278.22,78.03 L278.34,77.06 L278.46,76.10 L278.58,75.13 L278.69,74.16 L278.81,73.20 L278.92,72.23 L279.04,71.26 L279.15,70.29 L279.26,69.32 L279.37,68.35 L279.48,67.38 L279.59,66.41 L279.69,65.44 L279.80,64.47 L279.91,63.50 L280.01,62.53 L280.11,61.56 L280.22,60.59 L280.32,59.62 L280.42,58.65 L280.52,57.67 L280.62,56.70 L280.72,55.73 L280.82,54.76 L280.92,53.79 L281.02,52.82 L281.12,51.85 L281.22,50.88 L281.32,49.91 L281.41,48.94 L281.51,47.98 L281.61,47.01 L281.71,46.04 L281.80,45.07 L281.90,44.10 L282.00,43.14 L282.10,42.17 L282.19,41.21 L282.29,40.24 L282.39,39.28 L282.49,38.31 L282.58,37.35 L282.68,36.39 L282.78,35.43 L282.88,34.47 L282.98,33.51 L283.08,32.55 L283.18,31.59 L283.28,30.63 L283.38,29.67 L283.49,28.72 L283.59,27.76 L283.69,26.81 L283.80,25.86 L283.90,24.91 L284.01,23.96 L284.12,23.01 L284.22,22.06" stroke="#e9572b" stroke-dasharray="19.2 14" stroke-dashoffset="1.6" stroke-width="3.1" clip-path="url(#cl)"/>
</g>
<g stroke="#111" stroke-width="0.95" fill="none"><path d="M46.9,33.0 L379.68,33.0" stroke-width="1.6"/><path d="M47.5,29.4 L47.5,238.25" stroke-width="1.35"/><path d="M47.50,33.0 L47.50,29.4"/><path d="M58.56,33.0 L58.56,30.9"/><path d="M69.61,33.0 L69.61,30.9"/><path d="M80.67,33.0 L80.67,30.9"/><path d="M91.72,33.0 L91.72,30.9"/><path d="M102.78,33.0 L102.78,29.4"/><path d="M113.84,33.0 L113.84,30.9"/><path d="M124.89,33.0 L124.89,30.9"/><path d="M135.95,33.0 L135.95,30.9"/><path d="M147.00,33.0 L147.00,30.9"/><path d="M158.06,33.0 L158.06,29.4"/><path d="M169.12,33.0 L169.12,30.9"/><path d="M180.17,33.0 L180.17,30.9"/><path d="M191.23,33.0 L191.23,30.9"/><path d="M202.28,33.0 L202.28,30.9"/><path d="M213.34,33.0 L213.34,29.4"/><path d="M224.40,33.0 L224.40,30.9"/><path d="M235.45,33.0 L235.45,30.9"/><path d="M246.51,33.0 L246.51,30.9"/><path d="M257.56,33.0 L257.56,30.9"/><path d="M268.62,33.0 L268.62,29.4"/><path d="M279.68,33.0 L279.68,30.9"/><path d="M290.73,33.0 L290.73,30.9"/><path d="M301.79,33.0 L301.79,30.9"/><path d="M312.84,33.0 L312.84,30.9"/><path d="M323.90,33.0 L323.90,29.4"/><path d="M334.96,33.0 L334.96,30.9"/><path d="M346.01,33.0 L346.01,30.9"/><path d="M357.07,33.0 L357.07,30.9"/><path d="M368.12,33.0 L368.12,30.9"/><path d="M379.18,33.0 L379.18,29.4"/><path d="M47.5,33.00 L51.1,33.00"/><path d="M47.5,39.82 L49.6,39.82"/><path d="M47.5,46.65 L49.6,46.65"/><path d="M47.5,53.47 L49.6,53.47"/><path d="M47.5,60.30 L49.6,60.30"/><path d="M47.5,67.12 L51.1,67.12"/><path d="M47.5,73.95 L49.6,73.95"/><path d="M47.5,80.78 L49.6,80.78"/><path d="M47.5,87.60 L49.6,87.60"/><path d="M47.5,94.42 L49.6,94.42"/><path d="M47.5,101.25 L51.1,101.25"/><path d="M47.5,108.08 L49.6,108.08"/><path d="M47.5,114.90 L49.6,114.90"/><path d="M47.5,121.73 L49.6,121.73"/><path d="M47.5,128.55 L49.6,128.55"/><path d="M47.5,135.38 L51.1,135.38"/><path d="M47.5,142.20 L49.6,142.20"/><path d="M47.5,149.03 L49.6,149.03"/><path d="M47.5,155.85 L49.6,155.85"/><path d="M47.5,162.68 L49.6,162.68"/><path d="M47.5,169.50 L51.1,169.50"/><path d="M47.5,176.32 L49.6,176.32"/><path d="M47.5,183.15 L49.6,183.15"/><path d="M47.5,189.98 L49.6,189.98"/><path d="M47.5,196.80 L49.6,196.80"/><path d="M47.5,203.62 L51.1,203.62"/><path d="M47.5,210.45 L49.6,210.45"/><path d="M47.5,217.28 L49.6,217.28"/><path d="M47.5,224.10 L49.6,224.10"/><path d="M47.5,230.93 L49.6,230.93"/><path d="M47.5,237.75 L51.1,237.75"/></g>
<g fill="none" stroke-width="2.7">
<path d="M91.6,71.0 L146,71.0" stroke="#a80000" stroke-dasharray="8.3 2.8"/>
<path d="M91.6,99.4 L146.3,99.4" stroke="#0000aa"/>
<path d="M91.6,128.1 L146,128.1" stroke="#7a0085" stroke-dasharray="4.1 2.76"/>
<path d="M91.6,156.5 L145.8,156.5" stroke="#e9572b" stroke-dasharray="26 20.6"/>
</g>
<g font-family="'Liberation Sans', sans-serif" text-rendering="geometricPrecision"><text x="102.28" y="51.80" font-size="16.30" fill="#666" text-anchor="middle" letter-spacing="0.35">0.1</text><text x="158.06" y="51.80" font-size="16.30" fill="#666" text-anchor="middle" letter-spacing="0.35">0.2</text><text x="213.34" y="51.80" font-size="16.30" fill="#666" text-anchor="middle" letter-spacing="0.35">0.3</text><text x="268.62" y="51.80" font-size="16.30" fill="#666" text-anchor="middle" letter-spacing="0.35">0.4</text><text x="323.90" y="51.80" font-size="16.30" fill="#666" text-anchor="middle" letter-spacing="0.35">0.5</text><text x="379.18" y="51.80" font-size="16.30" fill="#666" text-anchor="middle" letter-spacing="0.35">0.6</text><text x="43.15" y="38.00" font-size="16.30" fill="#666" text-anchor="end" letter-spacing="0.35">−0.10</text><text x="43.15" y="72.12" font-size="16.30" fill="#666" text-anchor="end" letter-spacing="0.35">−0.15</text><text x="43.15" y="106.25" font-size="16.30" fill="#666" text-anchor="end" letter-spacing="0.35">−0.20</text><text x="43.15" y="140.38" font-size="16.30" fill="#666" text-anchor="end" letter-spacing="0.35">−0.25</text><text x="43.15" y="174.50" font-size="16.30" fill="#666" text-anchor="end" letter-spacing="0.35">−0.30</text><text x="43.15" y="208.62" font-size="16.30" fill="#666" text-anchor="end" letter-spacing="0.35">−0.35</text><text x="43.15" y="242.75" font-size="16.30" fill="#666" text-anchor="end" letter-spacing="0.35">−0.40</text><text x="156.40" y="76.90" font-size="17.00" fill="#111" stroke="#111" stroke-width="0.2"><tspan font-style="italic">λ</tspan> = 6</text><text x="156.40" y="105.30" font-size="17.00" fill="#111" stroke="#111" stroke-width="0.2"><tspan font-style="italic">λ</tspan> = 8</text><text x="156.40" y="134.00" font-size="17.00" fill="#111" stroke="#111" stroke-width="0.2"><tspan font-style="italic">λ</tspan> = 10</text><text x="156.40" y="162.40" font-size="17.00" fill="#111" stroke="#111" stroke-width="0.2"><tspan font-style="italic">λ</tspan> = 12</text><text x="29.30" y="18.40" font-size="21.00" fill="#666"><tspan font-style="italic">H</tspan><tspan font-size="15" dy="3.3">PE</tspan></text><text x="390.50" y="36.50" font-size="20.50" fill="#666" font-style="italic">y<tspan font-size="14.5" dy="4.3" dx="0.5">c</tspan><tspan font-size="11.5" dy="3" dx="0.3">i</tspan></text></g>
</svg></body></html>
